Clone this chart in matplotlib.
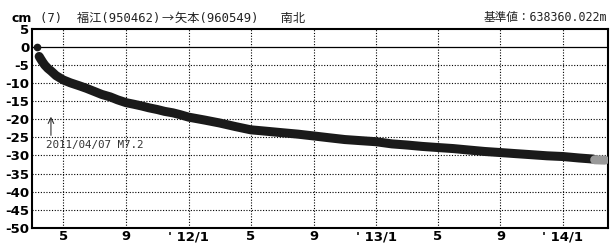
import numpy as np
import matplotlib
matplotlib.use('Agg')
import matplotlib.pyplot as plt

plt.rcParams['font.family'] = ['Noto Sans CJK JP', 'DejaVu Sans']

# (cm, north-south component)
first_date = '2011-03-11'
first_val = 0.0

dates = ['2011-03-15', '2011-03-18', '2011-03-22', '2011-03-26', '2011-04-01',
         '2011-04-07', '2011-04-17', '2011-05-01', '2011-05-15', '2011-06-01',
         '2011-06-15', '2011-07-01', '2011-07-15', '2011-08-01', '2011-08-15',
         '2011-09-01', '2011-09-15', '2011-10-01', '2011-10-15', '2011-11-01',
         '2011-11-15', '2011-12-01', '2011-12-15', '2012-01-01', '2012-02-01',
         '2012-03-01', '2012-04-01', '2012-05-01', '2012-06-01', '2012-07-01',
         '2012-08-01', '2012-09-01', '2012-10-01', '2012-11-01', '2012-12-01',
         '2013-01-01', '2013-02-01', '2013-03-01', '2013-04-01', '2013-05-01',
         '2013-06-01', '2013-07-01', '2013-08-01', '2013-09-01', '2013-10-01',
         '2013-11-01', '2013-12-01', '2014-01-01', '2014-02-01', '2014-03-01']
vals = [-2.6, -3.3, -4.2, -5.0, -5.9,
        -6.6, -7.9, -9.1, -9.9, -10.7,
        -11.4, -12.3, -13.1, -13.8, -14.6,
        -15.4, -15.8, -16.3, -16.8, -17.3,
        -17.8, -18.2, -18.7, -19.4, -20.2,
        -21.0, -22.0, -22.9, -23.3, -23.7,
        -24.1, -24.6, -25.1, -25.6, -25.9,
        -26.2, -26.8, -27.1, -27.5, -27.8,
        -28.1, -28.5, -28.9, -29.2, -29.5,
        -29.8, -30.1, -30.3, -30.7, -31.0]

grey_dates = ['2014-03-04', '2014-03-24']
grey_vals = [-31.2, -31.3]

tick_dates = ['2011-05-01', '2011-09-01', '2012-01-01', '2012-05-01', '2012-09-01',
              '2013-01-01', '2013-05-01', '2013-09-01', '2014-01-01']
tick_labels = ['5', '9', "' 12/1", '5', '9', "' 13/1", '5', '9', "' 14/1"]
yticks = np.arange(-50, 6, 5)

quake_date = '2011-04-07'
quake_text = '2011/04/07 M7.2'

d = np.array(dates, dtype='datetime64[D]')
gd = np.array(grey_dates, dtype='datetime64[D]')
td = np.array(tick_dates, dtype='datetime64[D]')

fig = plt.figure(figsize=(6.11, 2.44), dpi=100)
ax = fig.add_axes([32/611, 1-227.7/244, 576/611, (227.7-29)/244])

ax.set_xlim(np.datetime64('2011-03-01'), np.datetime64('2014-03-30'))
ax.set_ylim(-50, 5)

# grid
for t in td:
    ax.axvline(t, color='k', lw=0.8, ls=(0, (1, 1.5)), zorder=1)
for yv in yticks:
    if yv == 0:
        ax.axhline(0, color='k', lw=0.9, zorder=1)
    elif yv > -50 and yv < 5:
        ax.axhline(yv, color='k', lw=0.8, ls=(0, (1, 1.5)), zorder=1)

# data
ax.plot(np.datetime64(first_date), first_val, 'o', color='#1a1a1a', ms=4.5, zorder=3)
ax.plot(d, vals, '-', color='#1a1a1a', lw=6.5, solid_capstyle='round',
        solid_joinstyle='round', zorder=3)
ax.plot(gd, grey_vals, '-', color='#999999', lw=6.5, solid_capstyle='round', zorder=3)

ax.set_xticks(td)
ax.set_xticklabels(tick_labels)
ax.set_yticks(yticks)
ax.set_yticklabels([str(v) for v in yticks])
ax.tick_params(length=0, labelsize=9.5)
ax.tick_params(axis='y', pad=2)
ax.tick_params(axis='x', pad=2)
for lab in ax.get_xticklabels() + ax.get_yticklabels():
    lab.set_fontweight('bold')
    lab.set_family(['Liberation Sans Narrow', 'DejaVu Sans'])

for s in ax.spines.values():
    s.set_linewidth(1.5)

# earthquake arrow
qd = np.datetime64(quake_date)
ax.annotate('', xy=(qd, -18.5), xytext=(qd, -25.2),
            arrowprops=dict(arrowstyle='->', color='#333333', lw=0.8))
ax.text(np.datetime64('2011-03-28'), -27.2, quake_text, family='DejaVu Sans Mono',
        fontsize=7.8, color='#333333', va='center', ha='left')

mixed = ['DejaVu Sans Mono', 'Noto Sans CJK JP']
fig.text(12/611, 1-18/244, 'cm', fontsize=9, fontweight='bold', va='center',
         family=['Liberation Sans Narrow', 'DejaVu Sans'])

# title pieces laid out one after another (arrow from the CJK font)
pieces = [('(7)  福江(950462)', mixed), ('→', ['Noto Sans CJK JP']),
          ('矢本(960549)   南北', mixed)]
renderer = fig.canvas.get_renderer()
xpos = 40
for txt, fam in pieces:
    t = fig.text(xpos/611, 1-18/244, txt, fontsize=8.8, va='center',
                 color='#222222', family=fam)
    xpos = t.get_window_extent(renderer).x1 + 1

fig.text(607/611, 1-18/244, '基準値：638360.022m', fontsize=8.4, va='center',
         ha='right', color='#222222', family=mixed)

fig.savefig('out.png', dpi=100)
